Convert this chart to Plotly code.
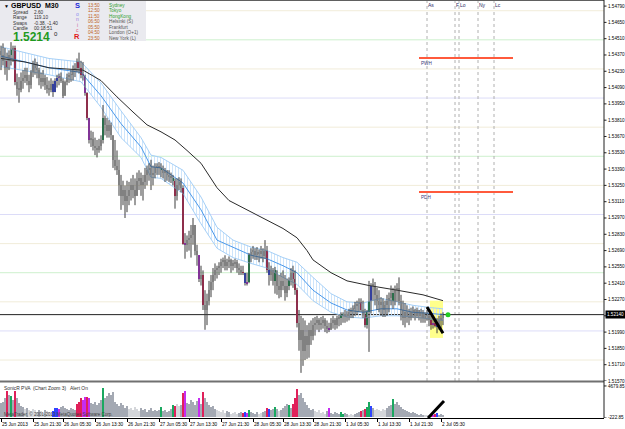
import plotly.graph_objects as go

# ---------------- data ----------------
bar_high = [1.5445,1.5447,1.5443,1.5439,1.5441,1.5448,1.5445,1.5445,1.5421,1.5418,
 1.5422,1.5424,1.5426,1.5426,1.5420,1.5424,1.5432,1.5434,1.5431,1.5426,
 1.5422,1.5424,1.5420,1.5418,1.5415,1.5417,1.5415,1.5417,1.5420,1.5421,
 1.5422,1.5417,1.5415,1.5421,1.5422,1.5424,1.5428,1.5430,1.5434,1.5439,
 1.5432,1.5431,1.5420,1.5405,1.5383,1.5372,1.5371,1.5366,1.5364,1.5365,
 1.5368,1.5394,1.5385,1.5383,1.5381,1.5379,1.5368,1.5364,1.5355,1.5347,
 1.5334,1.5329,1.5325,1.5329,1.5328,1.5331,1.5334,1.5331,1.5336,1.5338,
 1.5336,1.5334,1.5340,1.5342,1.5344,1.5347,1.5342,1.5344,1.5344,1.5345,
 1.5344,1.5342,1.5340,1.5338,1.5338,1.5336,1.5334,1.5331,1.5331,1.5332,
 1.5331,1.5325,1.5284,1.5282,1.5286,1.5291,1.5297,1.5291,1.5274,1.5265,
 1.5256,1.5252,1.5235,1.5232,1.5243,1.5248,1.5254,1.5258,1.5256,1.5259,
 1.5262,1.5263,1.5265,1.5262,1.5264,1.5262,1.5261,1.5262,1.5261,1.5258,
 1.5256,1.5256,1.5250,1.5250,1.5267,1.5271,1.5273,1.5271,1.5272,1.5270,
 1.5273,1.5271,1.5278,1.5273,1.5259,1.5256,1.5254,1.5255,1.5252,1.5248,
 1.5250,1.5252,1.5248,1.5245,1.5246,1.5254,1.5256,1.5252,1.5237,1.5218,
 1.5213,1.5211,1.5209,1.5205,1.5207,1.5209,1.5211,1.5212,1.5213,1.5211,
 1.5212,1.5213,1.5211,1.5209,1.5207,1.5211,1.5213,1.5211,1.5213,1.5214,
 1.5216,1.5216,1.5218,1.5217,1.5219,1.5220,1.5222,1.5225,1.5226,1.5228,
 1.5228,1.5226,1.5219,1.5218,1.5243,1.5241,1.5245,1.5242,1.5237,1.5235,
 1.5229,1.5228,1.5226,1.5231,1.5233,1.5239,1.5237,1.5239,1.5241,1.5246,
 1.5231,1.5226,1.5224,1.5222,1.5219,1.5220,1.5221,1.5219,1.5220,1.5218,
 1.5219,1.5218,1.5216,1.5218,1.5215,1.5213,1.5211,1.5209,1.5211,1.5213,
 1.5215,1.5216]

bar_low = [1.5424,1.5428,1.5420,1.5415,1.5424,1.5428,1.5431,1.5411,1.5402,1.5396,
 1.5405,1.5408,1.5413,1.5411,1.5405,1.5408,1.5418,1.5420,1.5417,1.5411,
 1.5408,1.5410,1.5407,1.5404,1.5402,1.5405,1.5401,1.5407,1.5409,1.5411,
 1.5413,1.5400,1.5402,1.5411,1.5413,1.5414,1.5415,1.5418,1.5422,1.5421,
 1.5417,1.5415,1.5402,1.5381,1.5361,1.5358,1.5355,1.5351,1.5349,1.5353,
 1.5355,1.5361,1.5368,1.5366,1.5366,1.5364,1.5340,1.5338,1.5334,1.5316,
 1.5304,1.5308,1.5297,1.5302,1.5308,1.5312,1.5314,1.5308,1.5316,1.5321,
 1.5316,1.5312,1.5322,1.5325,1.5329,1.5321,1.5325,1.5331,1.5334,1.5334,
 1.5332,1.5331,1.5328,1.5329,1.5328,1.5327,1.5325,1.5305,1.5312,1.5321,
 1.5319,1.5274,1.5262,1.5268,1.5269,1.5263,1.5274,1.5265,1.5256,1.5242,
 1.5239,1.5218,1.5201,1.5205,1.5222,1.5229,1.5235,1.5243,1.5245,1.5248,
 1.5250,1.5254,1.5252,1.5252,1.5254,1.5250,1.5252,1.5254,1.5250,1.5248,
 1.5248,1.5248,1.5239,1.5239,1.5241,1.5259,1.5262,1.5261,1.5261,1.5259,
 1.5262,1.5259,1.5262,1.5250,1.5239,1.5243,1.5239,1.5232,1.5231,1.5228,
 1.5229,1.5235,1.5226,1.5229,1.5235,1.5239,1.5237,1.5231,1.5203,1.5183,
 1.5164,1.5170,1.5175,1.5176,1.5177,1.5188,1.5192,1.5196,1.5201,1.5199,
 1.5201,1.5202,1.5199,1.5198,1.5199,1.5201,1.5202,1.5201,1.5202,1.5204,
 1.5205,1.5207,1.5207,1.5208,1.5209,1.5211,1.5211,1.5213,1.5214,1.5216,
 1.5216,1.5211,1.5203,1.5202,1.5182,1.5215,1.5226,1.5222,1.5218,1.5216,
 1.5213,1.5212,1.5212,1.5213,1.5216,1.5222,1.5219,1.5222,1.5225,1.5222,
 1.5209,1.5205,1.5203,1.5207,1.5205,1.5209,1.5211,1.5209,1.5211,1.5209,
 1.5207,1.5207,1.5207,1.5209,1.5204,1.5201,1.5202,1.5203,1.5198,1.5201,
 1.5202,1.5205]

bar_close = [1.5437,1.5432,1.5426,1.5432,1.5437,1.5441,1.5443,1.5414,1.5408,1.5407,
 1.5415,1.5417,1.5420,1.5415,1.5411,1.5422,1.5428,1.5426,1.5424,1.5417,
 1.5414,1.5417,1.5411,1.5408,1.5407,1.5412,1.5405,1.5415,1.5417,1.5419,
 1.5415,1.5402,1.5414,1.5418,1.5420,1.5420,1.5424,1.5426,1.5431,1.5426,
 1.5420,1.5419,1.5404,1.5383,1.5364,1.5365,1.5359,1.5357,1.5355,1.5359,
 1.5364,1.5383,1.5377,1.5372,1.5377,1.5368,1.5347,1.5342,1.5338,1.5325,
 1.5316,1.5321,1.5312,1.5316,1.5321,1.5325,1.5321,1.5316,1.5329,1.5331,
 1.5325,1.5328,1.5334,1.5338,1.5340,1.5334,1.5336,1.5340,1.5342,1.5340,
 1.5338,1.5336,1.5338,1.5334,1.5333,1.5331,1.5329,1.5316,1.5325,1.5328,
 1.5323,1.5275,1.5274,1.5278,1.5280,1.5282,1.5291,1.5269,1.5265,1.5245,
 1.5248,1.5222,1.5218,1.5226,1.5235,1.5242,1.5248,1.5252,1.5254,1.5256,
 1.5259,1.5261,1.5256,1.5259,1.5261,1.5256,1.5258,1.5259,1.5254,1.5252,
 1.5250,1.5250,1.5241,1.5242,1.5265,1.5268,1.5269,1.5265,1.5268,1.5266,
 1.5269,1.5264,1.5269,1.5252,1.5248,1.5252,1.5243,1.5252,1.5239,1.5235,
 1.5243,1.5239,1.5233,1.5239,1.5244,1.5250,1.5245,1.5235,1.5207,1.5192,
 1.5201,1.5183,1.5196,1.5188,1.5201,1.5196,1.5205,1.5207,1.5209,1.5205,
 1.5207,1.5209,1.5204,1.5202,1.5201,1.5207,1.5209,1.5205,1.5211,1.5211,
 1.5214,1.5213,1.5214,1.5213,1.5216,1.5218,1.5219,1.5222,1.5223,1.5225,
 1.5218,1.5214,1.5205,1.5216,1.5226,1.5239,1.5239,1.5231,1.5226,1.5222,
 1.5225,1.5218,1.5222,1.5226,1.5228,1.5233,1.5226,1.5235,1.5237,1.5226,
 1.5218,1.5211,1.5216,1.5213,1.5211,1.5216,1.5218,1.5213,1.5218,1.5213,
 1.5216,1.5211,1.5213,1.5213,1.5209,1.5205,1.5207,1.5204,1.5205,1.5209,
 1.5211,1.5214]
first_open = 1.5440

volume = [2072,2225,2837,3908,3296,3143,2531,3908,2837,2072,
 1613,1460,1154,1307,1001,848,1154,1001,695,1001,
 848,542,1001,848,695,542,848,1307,1307,1154,
 1460,1613,1307,1154,1001,1307,1154,1001,1919,2225,
 2837,2531,2990,2990,2837,2072,1919,2225,1766,2072,
 2531,4367,2837,3143,3602,3296,3755,2225,1919,1613,
 2072,1766,1307,1613,1154,1307,1001,1460,1154,848,
 1307,1001,1154,695,1001,1307,848,1001,848,1001,
 1460,848,1001,695,848,1154,1766,1613,1919,1613,
 1766,3602,3908,2072,1919,2531,2225,1766,2378,2837,
 1919,3755,2837,2225,1766,1460,1613,1154,1001,848,
 695,1001,542,848,695,389,542,695,389,542,
 695,542,695,542,1001,695,542,389,695,389,
 542,695,848,1307,1154,1001,1154,1460,1154,848,
 1001,1307,1613,1919,1766,1307,1919,2837,4214,3296,
 3602,2837,2225,1766,1307,1001,1154,848,695,1001,
 542,695,389,848,1307,542,389,695,542,389,
 695,389,542,389,236,389,236,389,542,695,
 848,1001,1154,1460,2225,1613,1307,1001,1154,1001,
 848,1154,1001,1307,1613,1766,2684,1919,2225,1766,
 1460,1154,1001,848,695,542,695,542,389,236,
 389,150,236,150,100,150,236,389,542,236,
 389,150]

# PVA colour classes by bar index (all other bars: normal)
pva_red = [3, 7, 38, 39, 40, 43, 87, 91, 101, 121, 133, 146, 147, 148, 180, 182, 215, 217]
pva_green = [5, 51, 80, 86, 124, 137, 144, 170, 171, 183, 184, 196]
pva_blue = [26, 27, 28, 122, 134, 185, 218]
pva_magenta = [29, 41, 42, 44, 92, 99, 123, 164, 216]
pva_light = [12, 14, 15, 16, 17, 18, 20, 21, 23, 24, 25, 64, 65, 66, 67, 68, 69, 88, 89,
             108, 109, 110, 111, 112, 115, 116, 117, 118, 129, 130, 139, 157, 158, 159,
             160, 161, 162, 174, 175, 176, 187, 188, 189, 190, 191, 192, 212, 213, 214]

# slow moving average (black) sampled at bar indices
ma_bar = [0, 12, 24, 34, 41, 50, 58, 66, 73, 80, 87, 93, 100, 108, 114, 123, 133, 141, 148,
          153, 156, 165, 173, 184, 198, 211, 221]
ma_slow = [1.5434, 1.5431, 1.5426, 1.5425, 1.5424, 1.5415, 1.5401, 1.5388, 1.5377, 1.5371,
           1.5364, 1.5355, 1.5344, 1.5323, 1.5312, 1.5304, 1.5295, 1.5288, 1.5280, 1.5269,
           1.5261, 1.5250, 1.5243, 1.5239, 1.5235, 1.5231, 1.5226]

# dragon band (high / close / low EMA) sampled at bar indices
band_bar = [0, 24, 40, 50, 60, 70, 75, 80, 91, 100, 108, 116, 125, 133, 141, 148, 156, 165,
            173, 181, 190, 198, 206, 215, 221]
band_top = [1.5444, 1.5434, 1.5431, 1.5413, 1.5389, 1.5366, 1.5351, 1.5349, 1.5338, 1.5315,
            1.5289, 1.5278, 1.5272, 1.5269, 1.5263, 1.5259, 1.5246, 1.5232, 1.5225, 1.5224,
            1.5228, 1.5225, 1.5222, 1.5220, 1.5219]
band_mid = [1.5436, 1.5426, 1.5422, 1.5402, 1.5378, 1.5358, 1.5341, 1.5340, 1.5327, 1.5304,
            1.5278, 1.5272, 1.5265, 1.5262, 1.5256, 1.5250, 1.5235, 1.5224, 1.5218, 1.5216,
            1.5219, 1.5219, 1.5216, 1.5215, 1.5214]
band_bot = [1.5427, 1.5420, 1.5414, 1.5392, 1.5366, 1.5349, 1.5332, 1.5331, 1.5318, 1.5292,
            1.5271, 1.5263, 1.5258, 1.5254, 1.5246, 1.5240, 1.5226, 1.5216, 1.5212, 1.5211,
            1.5213, 1.5213, 1.5212, 1.5210, 1.5209]

price_ticks = [1.5157, 1.5171, 1.5185, 1.5199, 1.5213, 1.5227, 1.5241, 1.5255, 1.5269, 1.5283,
               1.5297, 1.5311, 1.5325, 1.5339, 1.5353, 1.5367, 1.5381, 1.5395, 1.5409, 1.5423,
               1.5437, 1.5451, 1.5465, 1.5479]
round_levels = [1.5175, 1.5200, 1.5225, 1.5250, 1.5275, 1.5300, 1.5325, 1.5350, 1.5375,
                1.5400, 1.5425, 1.5450, 1.5475]

time_tick_bar = [0, 16, 31, 47, 63, 79, 94, 110, 126, 141, 156, 172, 188, 204, 220]
time_tick_label = ["25 Jun 2013", "25 Jun 21:30", "26 Jun 05:30", "26 Jun 13:30", "26 Jun 21:30",
                   "27 Jun 05:30", "27 Jun 13:30", "27 Jun 21:30", "28 Jun 05:30", "28 Jun 13:30",
                   "28 Jun 21:30", "1 Jul 05:30", "1 Jul 13:30", "1 Jul 21:30", "2 Jul 05:30"]

session_name = ["As", "F", "Lo", "Ny", "Lc"]
session_bar = [213, 227, 229, 238.5, 246.5]

level_name = ["PWH", "PDH"]
level_price = [1.54344, 1.53193]
level_from_bar, level_to_bar = 209, 256

bid_price = 1.5214
vol_top_label, vol_bot_label = 4679.85, -222.85

box_bars = [214.5, 221.0]
box_prices = [1.5194, 1.5226]
trend_main_bar = [213, 221]
trend_main_price = [1.52205, 1.5198]
trend_vol_bar = [213.5, 221.5]
trend_vol_val = [-222.85, 2378]

clock_time = ["13:50", "12:50", "11:50", "06:50", "05:50", "04:50", "23:50"]
clock_city = ["Sydney", "Tokyo", "HongKong", "Helsinki (S)", "Frankfurt", "London (O+1)", "New York (L)"]
info_label = ["Spread", "Range", "Swaps", "Candle"]
info_value = ["2.60", "119.10", "-0.38, -1.40", "00:18:51"]

# ---------------- geometry helpers ----------------
W, H = 625, 429
MR, MB = 21, 11
PW, PH = W - MR, H - MB          # plot area 604 x 418


def px(x):
    return x / PW


def py(y):
    return 1 - y / PH


FONT = "Liberation Sans"
n = len(bar_close)
idx = list(range(n))
opens = [first_open] + bar_close[:-1]
highs = [max(h, o, c) for h, o, c in zip(bar_high, opens, bar_close)]
lows = [min(l, o, c) for l, o, c in zip(bar_low, opens, bar_close)]

cls = ["n"] * n
for lst, c in [(pva_light, "l"), (pva_red, "r"), (pva_green, "g"), (pva_blue, "b"), (pva_magenta, "m")]:
    for i in lst:
        cls[i] = c
body_col = {"n": "#c6c6c6", "l": "#c6c6c6", "r": "#e0205a", "g": "#1aa05a", "b": "#2f45ff", "m": "#c62cf0"}
vol_col = {"n": "#a4a9b3", "l": "#d4d6da", "r": "#e0205a", "g": "#1aa860", "b": "#2f45ff", "m": "#c62cf0"}

fig = go.Figure()

# band
fig.add_trace(go.Scatter(x=band_bar, y=band_top, mode="lines", line=dict(color="#a6d0f7", width=1),
                         xaxis="x", yaxis="y", hoverinfo="skip"))
fig.add_trace(go.Scatter(x=band_bar, y=band_bot, mode="lines", line=dict(color="#a6d0f7", width=1),
                         fill="tonexty", fillcolor="rgba(215,234,252,0.35)",
                         fillpattern=dict(shape="|", fgcolor="#c8e2fa", size=3, solidity=0.3),
                         xaxis="x", yaxis="y", hoverinfo="skip"))
fig.add_trace(go.Scatter(x=band_bar, y=band_mid, mode="lines", line=dict(color="#4a98ea", width=1),
                         xaxis="x", yaxis="y", hoverinfo="skip"))
fig.add_trace(go.Scatter(x=ma_bar, y=ma_slow, mode="lines", line=dict(color="#2a2a2a", width=1),
                         xaxis="x", yaxis="y", hoverinfo="skip"))

# wicks
wx, wy = [], []
for i in idx:
    wx += [i, i, None]
    wy += [lows[i], highs[i], None]
fig.add_trace(go.Scatter(x=wx, y=wy, mode="lines", line=dict(color="#3c3c3c", width=1),
                         xaxis="x", yaxis="y", hoverinfo="skip"))
# bodies
fig.add_trace(go.Bar(x=idx, y=[max(abs(c - o), 0.00005) for o, c in zip(opens, bar_close)],
                     base=[min(o, c) for o, c in zip(opens, bar_close)], width=0.6,
                     marker=dict(color=[body_col[c] for c in cls], line=dict(width=0)),
                     xaxis="x", yaxis="y", hoverinfo="skip"))
# bid marker
fig.add_trace(go.Scatter(x=[n + 1.5], y=[bid_price], mode="markers",
                         marker=dict(color="#22cc22", size=5), xaxis="x", yaxis="y", hoverinfo="skip"))
# volume
fig.add_trace(go.Bar(x=idx, y=volume, width=0.55,
                     marker=dict(color=[vol_col[c] for c in cls], line=dict(width=0)),
                     xaxis="x2", yaxis="y2", hoverinfo="skip"))

shapes = []
lvl_col = {0: "#dcdcf8", 1: "#f1ecd9", 2: "#cdf0cd", 3: "#f1ecd9"}
for v in round_levels:
    k = int(round(v * 10000)) % 100 // 25
    shapes.append(dict(type="line", xref="paper", yref="y", x0=0, x1=1, y0=v, y1=v,
                       line=dict(color=lvl_col[k], width=1), layer="below"))
shapes.append(dict(type="rect", xref="x", yref="y", x0=box_bars[0], x1=box_bars[1],
                   y0=box_prices[0], y1=box_prices[1], fillcolor="#ffff8c",
                   line=dict(width=0), layer="below"))
for b in session_bar:
    shapes.append(dict(type="line", xref="x", yref="paper", x0=b, x1=b, y0=py(381), y1=py(1),
                       line=dict(color="#b0b0b0", width=1, dash="dot"), layer="below"))
shapes.append(dict(type="line", xref="paper", yref="y", x0=0, x1=1, y0=bid_price, y1=bid_price,
                   line=dict(color="#202020", width=1), layer="below"))
for v in level_price:
    shapes.append(dict(type="line", xref="x", yref="y", x0=level_from_bar, x1=level_to_bar, y0=v, y1=v,
                       line=dict(color="#ff5a3c", width=2)))
shapes.append(dict(type="line", xref="x", yref="y", x0=trend_main_bar[0], x1=trend_main_bar[1],
                   y0=trend_main_price[0], y1=trend_main_price[1], line=dict(color="black", width=3)))
shapes.append(dict(type="line", xref="x2", yref="y2", x0=trend_vol_bar[0], x1=trend_vol_bar[1],
                   y0=trend_vol_val[0], y1=trend_vol_val[1], line=dict(color="black", width=3)))
# info panel background
shapes.append(dict(type="rect", xref="paper", yref="paper", x0=px(0), x1=px(146), y0=py(41), y1=py(0),
                   fillcolor="#eaeaef", line=dict(width=0)))
# frame lines
shapes.append(dict(type="line", xref="paper", yref="paper", x0=0, x1=1, y0=py(0.5), y1=py(0.5),
                   line=dict(color="#606060", width=1)))
shapes.append(dict(type="line", xref="paper", yref="paper", x0=0, x1=1, y0=py(381.5), y1=py(381.5),
                   line=dict(color="#707070", width=2)))
shapes.append(dict(type="line", xref="paper", yref="paper", x0=1, x1=1, y0=0, y1=1,
                   line=dict(color="#202020", width=1)))
# price axis tick marks
for v in price_ticks:
    shapes.append(dict(type="line", xref="paper", yref="y", x0=1, x1=px(PW + 2.5), y0=v, y1=v,
                       line=dict(color="#202020", width=1)))
for v in [vol_top_label, vol_bot_label]:
    shapes.append(dict(type="line", xref="paper", yref="y2", x0=1, x1=px(PW + 2.5), y0=v, y1=v,
                       line=dict(color="#202020", width=1)))

ann = []


def txt(x, y, s, size=5, color="#000000", bold=False, anchor="left", xref="paper", yref="paper", **kw):
    if bold:
        s = "<b>" + s + "</b>"
    ann.append(dict(x=x, y=y, xref=xref, yref=yref, text=s, showarrow=False, xanchor=anchor,
                    yanchor="middle", font=dict(family=FONT, size=size, color=color),
                    borderpad=0, **kw))


# price axis labels (the one under the bid label is hidden, as in the terminal)
for v in price_ticks:
    if abs(v - bid_price) < 0.0004:
        continue
    txt(px(PW + 2.5), v, "%.5f" % v, size=4.6, yref="y")
txt(px(PW + 2.5), vol_top_label, "%.2f" % vol_top_label, size=4.6, yref="y2", yshift=-1)
txt(px(PW + 2.5), vol_bot_label, "%.2f" % vol_bot_label, size=4.6, yref="y2", yshift=1)
# time labels
for b, lab in zip(time_tick_bar, time_tick_label):
    txt(b, py(424), lab, size=4.7, xref="x2", xshift=0)
# session labels
for b, lab in zip(session_bar, session_name):
    txt(b, py(5), lab, size=5, color="#2a2a66", xref="x")
for lab, v in zip(level_name, level_price):
    ann.append(dict(x=level_from_bar, y=v, xref="x", yref="y", text=lab, showarrow=False,
                    xanchor="left", yanchor="top", yshift=-1,
                    font=dict(family=FONT, size=4.6, color="#3a3a7a")))
# bid label on axis
ann.append(dict(x=1.0, y=bid_price, xref="paper", yref="y", text="1.52140", showarrow=False,
                xanchor="left", yanchor="middle", bgcolor="#000000", borderpad=1,
                font=dict(family=FONT, size=4.6, color="#ffffff"), xshift=0.5))
# volume panel texts
txt(px(3), py(388), "SonicR PVA  (Chart Zoom 3)   Alert On", size=4.9, color="#303030")
txt(px(3), py(414), "MetaTrader, © 2001-2013 MetaQuotes Software Corp.", size=4.5, color="#404040")

# info panel
txt(px(3), py(6), "▼", size=5)
txt(px(10), py(6), "GBPUSD", size=7, bold=True)
txt(px(44), py(6), "M30", size=7, bold=True)
for k, (a, b) in enumerate(zip(info_label, info_value)):
    yy = 12.5 + k * 5.3
    txt(px(12), py(yy), a, size=4.7, color="#303030")
    txt(px(33), py(yy), b, size=4.7, color="#303030")
txt(px(12), py(37), "1.5214", size=12, color="#1f9a1f", bold=True)
txt(px(52.5), py(33.5), "0", size=6, color="#202020")
sonic = [("S", "#1c2ad8", 7.5, 6, True), ("o", "#8c8cf0", 5, 14, False), ("n", "#a078e0", 5, 19.5, False),
         ("i", "#c86aa8", 5, 25, False), ("c", "#e05a78", 5, 30, False), ("R", "#e01818", 7.5, 37, True)]
for ch, colr, sz, yy, bd in sonic:
    txt(px(77), py(yy), ch, size=sz, color=colr, bold=bd, anchor="center")
for k, (t, c) in enumerate(zip(clock_time, clock_city)):
    yy = 5.5 + k * 5.45
    txt(px(87), py(yy), t, size=4.7, color="#c0661e")
    txt(px(108), py(yy), c, size=4.7, color="#2ea02e" if k < 3 else "#555555")

fig.update_layout(
    width=W, height=H, template="none",
    margin=dict(l=0, r=MR, t=0, b=MB, pad=0),
    paper_bgcolor="white", plot_bgcolor="white",
    showlegend=False, barmode="overlay", bargap=0,
    font=dict(family=FONT, size=5, color="#000000"),
    shapes=shapes, annotations=ann,
    xaxis=dict(domain=[0, 1], anchor="y", range=[-0.5, 301.5], showticklabels=False, ticks="",
               showgrid=False, zeroline=False, showline=False, automargin=False),
    xaxis2=dict(domain=[0, 1], anchor="y2", matches="x", range=[-0.5, 301.5],
                tickvals=time_tick_bar, ticktext=[""] * len(time_tick_bar), ticks="outside",
                ticklen=3, tickcolor="#000000", tickwidth=1,
                showgrid=False, zeroline=False, showline=True, linecolor="#000000", linewidth=1,
                automargin=False),
    yaxis=dict(domain=[py(381), py(2)], anchor="x", side="right", range=[1.5157, 1.54825],
               showticklabels=False, ticks="",
               showgrid=False, zeroline=False, showline=False, automargin=False),
    yaxis2=dict(domain=[0, py(383)], anchor="x2", side="right", range=[-222.85, 5132],
                showticklabels=False, ticks="",
                showgrid=False, zeroline=False, showline=False, automargin=False),
)

fig.write_html("out.html")
